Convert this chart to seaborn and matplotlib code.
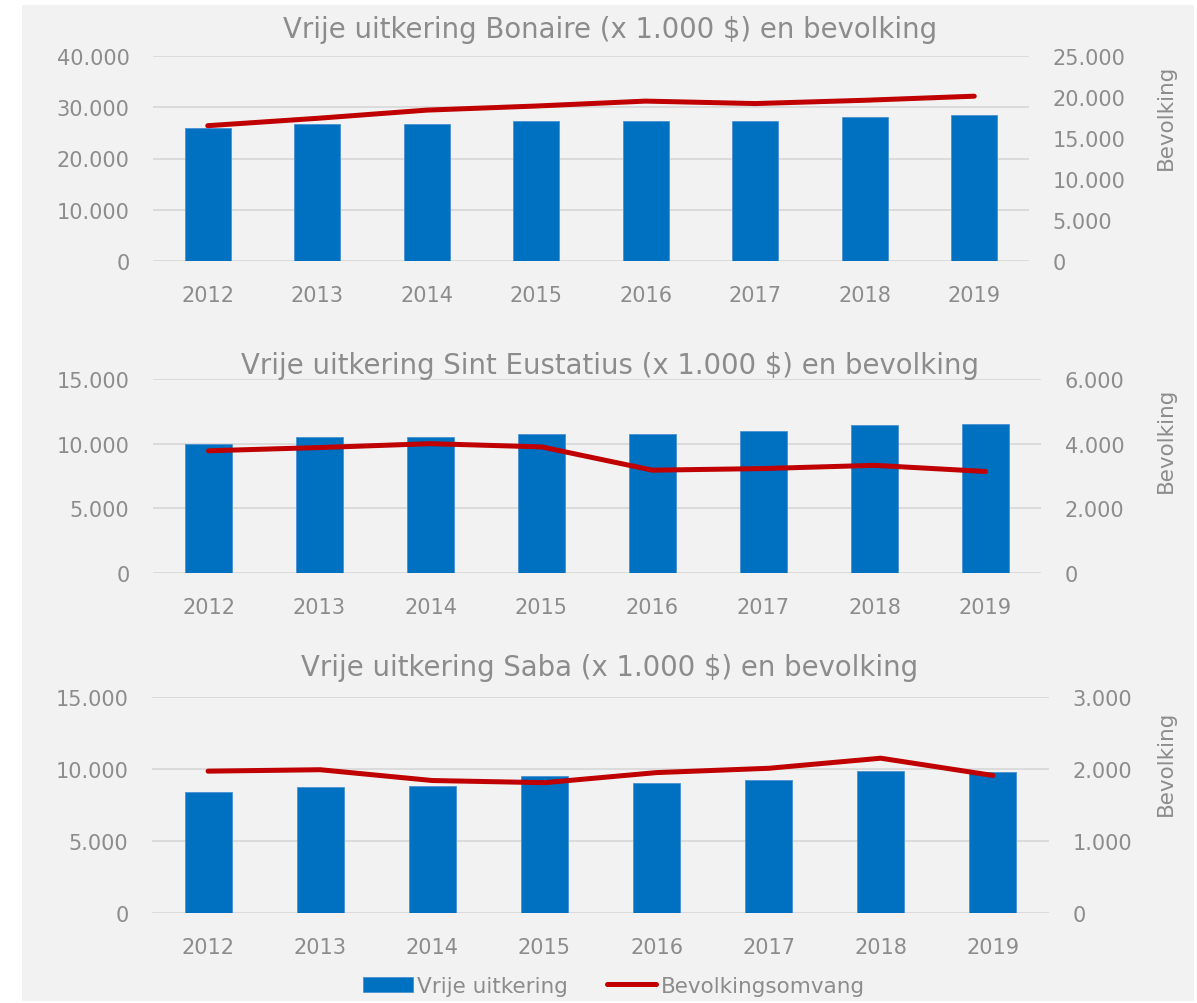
import numpy as np
import pandas as pd
import seaborn as sns
import matplotlib
matplotlib.use("Agg")
import matplotlib.pyplot as plt
from matplotlib.ticker import FuncFormatter, MultipleLocator
from matplotlib.patches import Rectangle

# ---- data ----
years = ["2012", "2013", "2014", "2015", "2016", "2017", "2018", "2019"]

bonaire_uitkering = [25950, 26750, 26800, 27250, 27250, 27300, 28100, 28550]
bonaire_bevolking = [16500, 17400, 18400, 18900, 19500, 19200, 19600, 20100]

eustatius_uitkering = [9950, 10500, 10550, 10750, 10750, 11000, 11450, 11550]
eustatius_bevolking = [3780, 3880, 4000, 3900, 3180, 3230, 3330, 3140]

saba_uitkering = [8400, 8750, 8850, 9500, 9050, 9250, 9850, 9800]
saba_bevolking = [1970, 1990, 1840, 1810, 1950, 2010, 2150, 1910]

titles = [
    "Vrije uitkering Bonaire (x 1.000 $) en bevolking",
    "Vrije uitkering Sint Eustatius (x 1.000 $) en bevolking",
    "Vrije uitkering Saba (x 1.000 $) en bevolking",
]
right_label = "Bevolking"
legend_labels = ["Vrije uitkering", "Bevolkingsomvang"]

# ---- style ----
BLUE = "#0070C0"
RED = "#C00000"
GRAY = "#8c8c8c"
GRID = "#d9d9d9"
BG = "#f2f2f2"

sns.set_theme(style="white")
plt.rcParams["font.family"] = ["DejaVu Sans"]

W, H = 1197, 1004
fig = plt.figure(figsize=(W / 100, H / 100), dpi=100)
fig.patch.set_facecolor("white")
fig.patches.append(Rectangle((22 / W, 2 / H), (1194 - 22) / W, (1002 - 6) / H,
                             transform=fig.transFigure, facecolor=BG,
                             edgecolor="none", zorder=-10))

def px(x0, y_top, x1, y_bot):
    return [x0 / W, 1 - y_bot / H, (x1 - x0) / W, (y_bot - y_top) / H]

panels = [
    dict(bars=bonaire_uitkering, pop=bonaire_bevolking, rect=px(153, 57, 1029, 262),
         lmax=40000, lstep=10000, rmax=25000, rstep=5000, title_y=30, lab_y=117),
    dict(bars=eustatius_uitkering, pop=eustatius_bevolking, rect=px(153, 380, 1041, 574),
         lmax=15000, lstep=5000, rmax=6000, rstep=2000, title_y=366, lab_y=440),
    dict(bars=saba_uitkering, pop=saba_bevolking, rect=px(152, 698, 1049, 914),
         lmax=15000, lstep=5000, rmax=3000, rstep=1000, title_y=668, lab_y=763),
]

fmt = FuncFormatter(lambda v, p: f"{v:,.0f}".replace(",", "."))
TICK = 15

handles = None
for i, p in enumerate(panels):
    ax = fig.add_axes(p["rect"])
    ax.set_facecolor("none")
    sns.barplot(x=years, y=p["bars"], ax=ax, color=BLUE, saturation=1,
                width=0.42, edgecolor="#4a92d4", linewidth=0.6,
                label=legend_labels[0])
    ax.set_xlim(-0.5, len(years) - 0.5)
    ax.set_ylim(0, p["lmax"])
    ax.yaxis.set_major_locator(MultipleLocator(p["lstep"]))
    ax.yaxis.set_major_formatter(fmt)
    ax.grid(axis="y", color=GRID, linewidth=1.3)
    ax.grid(axis="x", visible=False)
    ax.set_axisbelow(True)
    for s in ax.spines.values():
        s.set_visible(False)
    ax.tick_params(axis="both", length=0, labelsize=TICK, colors=GRAY)
    ax.tick_params(axis="y", pad=17)
    ax.tick_params(axis="x", pad=17)
    ax.set_xlabel("")
    ax.set_ylabel("")
    if ax.get_legend():
        ax.get_legend().remove()

    ax2 = ax.twinx()
    sns.lineplot(x=np.arange(len(years)), y=p["pop"], ax=ax2, color=RED,
                 linewidth=3.6, label=legend_labels[1], legend=False)
    ax2.lines[0].set_solid_capstyle("round")
    ax2.lines[0].set_solid_joinstyle("round")
    ax2.set_xlim(-0.5, len(years) - 0.5)
    ax2.set_ylim(0, p["rmax"])
    ax2.yaxis.set_major_locator(MultipleLocator(p["rstep"]))
    ax2.yaxis.set_major_formatter(fmt)
    ax2.grid(False)
    for s in ax2.spines.values():
        s.set_visible(False)
    ax2.tick_params(axis="y", length=0, labelsize=TICK, colors=GRAY, pad=17)
    ax2.set_ylabel("")

    fig.text(610 / W, 1 - p["title_y"] / H, titles[i], ha="center", va="center",
             fontsize=19.8, color=GRAY)
    fig.text(1166 / W, 1 - p["lab_y"] / H, right_label, ha="center", va="center",
             rotation=90, fontsize=15.5, color=GRAY)

    if i == len(panels) - 1:
        handles = [ax.containers[0], ax2.lines[0]]

fig.legend(handles=handles, labels=legend_labels, loc="center",
           bbox_to_anchor=(614 / W, 1 - 987 / H), ncol=2, frameon=False,
           fontsize=15.5, labelcolor=GRAY, handlelength=2.3,
           handletextpad=0.2, columnspacing=1.8)

fig.savefig("out.png", dpi=100, facecolor=fig.get_facecolor())
